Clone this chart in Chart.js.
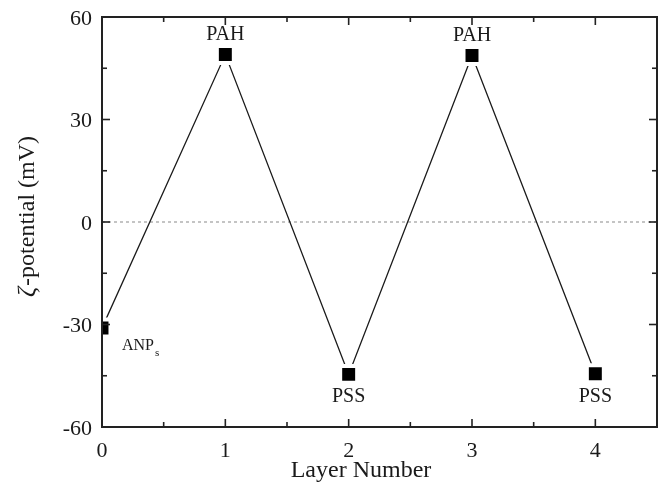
<!DOCTYPE html>
<html>
<head>
<meta charset="utf-8">
<script src="https://cdn.jsdelivr.net/npm/chart.js@4"></script>
<style>
    html, body { margin: 0; padding: 0; background: #fff; }
    #wrap { width: 664px; height: 483px; }
</style>
</head>
<body>
<div id="wrap"><canvas id="zetaChart" width="664" height="483"></canvas></div>
<script>
// Data
const layers = [0, 1, 2, 3, 4];
const zeta = [-31, 49, -44.6, 48.7, -44.4];
const pointLabels = ['ANP', 'PAH', 'PSS', 'PAH', 'PSS'];

// Axis ticks
const xTicks = [0, 1, 2, 3, 4];
const xMinor = [0.5, 1.5, 2.5, 3.5];
const yTicks = [-60, -30, 0, 30, 60];
const yMinor = [-45, -15, 15, 45];

const SERIF = '"Liberation Serif", "Times New Roman", serif';
const INK = '#1a1a1a';

// Frame, inward ticks, tick labels, zero line, point labels and axis titles
const framePlugin = {
    id: 'frame',
    beforeDatasetsDraw(chart) {
        const { ctx, chartArea: a, scales: { y } } = chart;
        const y0 = y.getPixelForValue(0);
        ctx.save();
        ctx.strokeStyle = '#8a8a8a';
        ctx.lineWidth = 1;
        ctx.setLineDash([3, 3]);
        ctx.beginPath();
        ctx.moveTo(a.left, y0);
        ctx.lineTo(a.right, y0);
        ctx.stroke();
        ctx.restore();
    },
    afterDatasetsDraw(chart) {
        const { ctx } = chart;
        const meta = chart.getDatasetMeta(0);
        ctx.save();
        ctx.fillStyle = INK;
        meta.data.forEach((pt, i) => {
            const text = pointLabels[i];
            if (i === 0) {
                ctx.font = '16px ' + SERIF;
                ctx.textAlign = 'left';
                ctx.textBaseline = 'alphabetic';
                ctx.fillText(text, pt.x + 20, pt.y + 22);
                const w = ctx.measureText(text).width;
                ctx.font = '11px ' + SERIF;
                ctx.fillText('s', pt.x + 21 + w, pt.y + 28);
                return;
            }
            ctx.font = '20px ' + SERIF;
            ctx.textAlign = 'center';
            ctx.textBaseline = 'alphabetic';
            const up = zeta[i] > 0;
            ctx.fillText(text, pt.x, up ? pt.y - 15 : pt.y + 28);
        });
        ctx.restore();
    },
    afterDraw(chart) {
        const { ctx, chartArea: a, scales: { x, y } } = chart;
        ctx.save();
        ctx.strokeStyle = '#222';
        ctx.lineWidth = 2;
        ctx.strokeRect(a.left, a.top, a.right - a.left, a.bottom - a.top);

        const tick = (x1, y1, x2, y2) => {
            ctx.beginPath();
            ctx.moveTo(x1, y1);
            ctx.lineTo(x2, y2);
            ctx.stroke();
        };
        ctx.lineWidth = 1.6;
        xTicks.forEach(v => {
            const px = x.getPixelForValue(v);
            tick(px, a.bottom, px, a.bottom - 8);
            tick(px, a.top, px, a.top + 8);
        });
        xMinor.forEach(v => {
            const px = x.getPixelForValue(v);
            tick(px, a.bottom, px, a.bottom - 5);
            tick(px, a.top, px, a.top + 5);
        });
        yTicks.forEach(v => {
            const py = y.getPixelForValue(v);
            tick(a.left, py, a.left + 8, py);
            tick(a.right, py, a.right - 8, py);
        });
        yMinor.forEach(v => {
            const py = y.getPixelForValue(v);
            tick(a.left, py, a.left + 5, py);
            tick(a.right, py, a.right - 5, py);
        });

        // tick labels
        ctx.fillStyle = INK;
        ctx.font = '22px ' + SERIF;
        ctx.textBaseline = 'alphabetic';
        ctx.textAlign = 'center';
        xTicks.forEach(v => {
            ctx.fillText(String(v), x.getPixelForValue(v), 457);
        });
        ctx.textAlign = 'right';
        yTicks.forEach(v => {
            ctx.fillText(String(v), 92, y.getPixelForValue(v) + 7.5);
        });

        // x title
        ctx.font = '24px ' + SERIF;
        ctx.textAlign = 'center';
        ctx.fillText('Layer Number', 361, 477);

        // y title, rotated, with italic zeta
        const zetaFont = 'italic 25px ' + SERIF;
        const restFont = '24px ' + SERIF;
        const rest = '-potential (mV)';
        ctx.font = zetaFont;
        const wz = ctx.measureText('ζ').width;
        ctx.font = restFont;
        const wr = ctx.measureText(rest).width;
        ctx.translate(28, 217);
        ctx.rotate(-Math.PI / 2);
        ctx.textAlign = 'left';
        ctx.textBaseline = 'middle';
        const start = -(wz + wr) / 2;
        ctx.font = zetaFont;
        ctx.fillText('ζ', start, 0);
        ctx.font = restFont;
        ctx.fillText(rest, start + wz + 1, 0);
        ctx.restore();
    }
};

const ctx = document.getElementById('zetaChart').getContext('2d');
new Chart(ctx, {
    type: 'line',
    data: {
        labels: layers,
        datasets: [{
            data: layers.map((v, i) => ({ x: v, y: zeta[i] })),
            borderColor: INK,
            borderWidth: 1.3,
            pointStyle: 'rect',
            pointRadius: 12,
            pointBackgroundColor: '#000',
            pointBorderColor: '#fff',
            pointBorderWidth: 4,
            tension: 0
        }]
    },
    options: {
        responsive: false,
        animation: false,
        events: [],
        layout: { autoPadding: false, padding: { top: 17, right: 7, left: 0, bottom: 0 } },
        plugins: {
            legend: { display: false },
            tooltip: { enabled: false }
        },
        scales: {
            x: {
                type: 'linear',
                min: 0,
                max: 4.5,
                afterBuildTicks: s => { s.ticks = xTicks.map(v => ({ value: v })); },
                afterFit: s => { s.height = 56; },
                grid: { display: false, drawTicks: false },
                border: { display: false },
                ticks: { display: false }
            },
            y: {
                min: -60,
                max: 60,
                afterBuildTicks: s => { s.ticks = yTicks.map(v => ({ value: v })); },
                afterFit: s => { s.width = 102; },
                grid: { display: false, drawTicks: false },
                border: { display: false },
                ticks: { display: false }
            }
        }
    },
    plugins: [framePlugin]
});
</script>
</body>
</html>
